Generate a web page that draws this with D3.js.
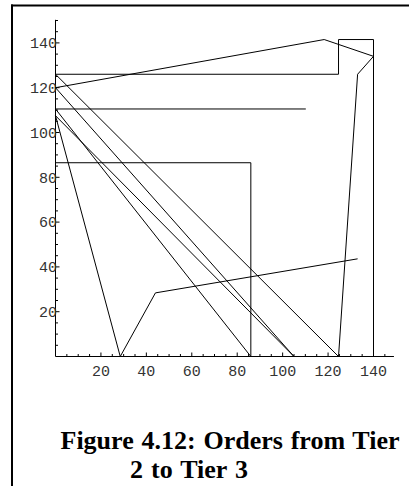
<!DOCTYPE html>
<html>
<head>
<meta charset="utf-8">
<script src="https://cdn.jsdelivr.net/npm/d3@7"></script>
<style>
  html, body { margin: 0; padding: 0; background: #fff; }
  svg { display: block; }
</style>
</head>
<body>
<svg id="chart" width="409" height="486"></svg>
<script>
// Series 1: trajectory (x = order, y = order)
const series1X = [133, 44, 28.5, 0, 105, 0, 118.3, 140, 133, 124.6, 0, 124.6, 124.6, 140, 140];
const series1Y = [43.6, 28.4, 0, 107.5, 0, 120, 141.5, 134, 126, 0, 126, 126, 141.5, 141.5, 0];
// Series 2
const series2X = [110.2, 0, 86, 86, 0];
const series2Y = [110.5, 110.5, 0, 86.5, 86.5];

const xTickLabels = [20, 40, 60, 80, 100, 120, 140];
const yTickLabels = [20, 40, 60, 80, 100, 120, 140];
const titleLines = ["Figure 4.12: Orders from Tier", "2 to Tier 3"];

const svg = d3.select("#chart");

// frame
svg.append("line").attr("x1", 12).attr("x2", 12).attr("y1", 4.5).attr("y2", 486)
  .attr("stroke", "#000").attr("stroke-width", 2);
svg.append("line").attr("x1", 11).attr("x2", 409).attr("y1", 5.5).attr("y2", 5.5)
  .attr("stroke", "#000").attr("stroke-width", 2);

const x = d3.scaleLinear().domain([0, 140]).range([55.5, 373.5]);
const y = d3.scaleLinear().domain([0, 140]).range([356.5, 42.9]);

// axes lines
svg.append("line").attr("x1", x(0)).attr("x2", x(149)).attr("y1", y(0)).attr("y2", y(0))
  .attr("stroke", "#000").attr("stroke-width", 1);
svg.append("line").attr("x1", x(0)).attr("x2", x(0)).attr("y1", y(0)).attr("y2", y(150.3))
  .attr("stroke", "#000").attr("stroke-width", 1);

// minor / major ticks
const xMinor = d3.range(5, 150, 5);
const yMinor = d3.range(5, 151, 5);
svg.append("g").selectAll("line").data(xMinor).join("line")
  .attr("x1", d => x(d)).attr("x2", d => x(d))
  .attr("y1", y(0)).attr("y2", d => y(0) - (d % 20 === 0 ? 4 : 2.5))
  .attr("stroke", "#000").attr("stroke-width", 1);
svg.append("g").selectAll("line").data(yMinor).join("line")
  .attr("y1", d => y(d)).attr("y2", d => y(d))
  .attr("x1", x(0)).attr("x2", d => x(0) + (d % 20 === 0 ? 4 : 2.5))
  .attr("stroke", "#000").attr("stroke-width", 1);

// tick labels
svg.append("g").selectAll("text").data(xTickLabels).join("text")
  .attr("x", d => x(d)).attr("y", 375.5)
  .attr("text-anchor", "middle")
  .attr("font-family", "Liberation Mono, monospace").attr("font-size", 15)
  .attr("fill", "#333").text(d => d);
svg.append("g").selectAll("text").data(yTickLabels).join("text")
  .attr("x", x(0) + 1.5).attr("y", d => y(d))
  .attr("dy", "0.35em")
  .attr("text-anchor", "end")
  .attr("font-family", "Liberation Mono, monospace").attr("font-size", 15)
  .attr("fill", "#333").text(d => d);

// data lines
const line = d3.line().x(d => x(d[0])).y(d => y(d[1]));
const pts1 = series1X.map((v, i) => [v, series1Y[i]]);
const pts2 = series2X.map((v, i) => [v, series2Y[i]]);
svg.append("path").attr("d", line(pts1)).attr("fill", "none")
  .attr("stroke", "#000").attr("stroke-width", 1);
svg.append("path").attr("d", line(pts2)).attr("fill", "none")
  .attr("stroke", "#000").attr("stroke-width", 1);

// caption
svg.append("text").attr("x", 60.5).attr("y", 449)
  .attr("font-family", "Liberation Serif, Times New Roman, serif")
  .attr("font-weight", "bold").attr("font-size", 26)
  .attr("word-spacing", 1.3)
  .text(titleLines[0]);
svg.append("text").attr("x", 130).attr("y", 478)
  .attr("font-family", "Liberation Serif, Times New Roman, serif")
  .attr("font-weight", "bold").attr("font-size", 26)
  .attr("word-spacing", 1.5)
  .text(titleLines[1]);
</script>
</body>
</html>
